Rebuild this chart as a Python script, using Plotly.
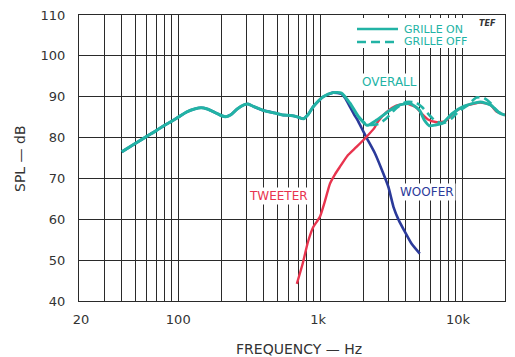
import plotly.graph_objects as go

# ---------------- data ----------------
on_freq = [40, 50, 60, 70, 80, 90, 100, 115, 130, 145, 160, 180, 200, 215, 235, 260, 290, 310,
           340, 400, 480, 550, 620, 700, 760, 820, 890, 1050, 1230, 1410, 1620, 1860, 2130,
           2500, 3100, 3640, 4300, 5000, 5400, 5870, 6500, 7260, 8520, 10300, 13400, 15800,
           18300, 20000]
on_db = [76.5, 78.6, 80.3, 81.7, 83.0, 84.0, 85.0, 86.3, 87.0, 87.3, 87.0, 86.2, 85.4, 85.1, 85.6,
         87.0, 88.0, 88.2, 87.6, 86.6, 86.0, 85.5, 85.4, 85.0, 84.6, 85.6, 87.5, 90.0, 91.0, 90.9,
         88.4, 85.1, 83.0, 84.3, 86.7, 88.0, 88.3, 86.7, 84.3, 82.9, 83.1, 83.5, 85.9, 87.7,
         88.7, 88.0, 86.0, 85.5]

off_freq = [1860, 2130, 2560, 2940, 3430, 4020, 4700, 5200, 5900, 6500, 7000, 7600, 8500, 9500,
            10700, 12600, 14000, 15800, 17500, 20000]
off_db = [85.1, 83.2, 83.3, 84.8, 87.2, 88.7, 88.6, 87.5, 85.4, 84.0, 83.6, 83.7, 84.8, 86.5,
          87.7, 89.8, 89.8, 88.5, 86.5, 85.5]

tw_freq = [684, 750, 820, 893, 950, 1000, 1080, 1170, 1270, 1373, 1550, 1800, 2120, 2400, 2560,
           2940, 3430, 4020, 4700, 5200, 5700, 6500, 7600, 8900, 10700, 13400, 15800, 17500, 20000]
tw_db = [44.2, 49.0, 54.5, 58.1, 59.5, 60.8, 64.5, 68.7, 71.0, 72.8, 75.5, 77.7, 80.2, 82.3, 84.0,
         86.3, 87.8, 88.3, 87.5, 85.8, 84.5, 83.8, 84.0, 86.4, 87.8, 88.6, 88.0, 86.3, 85.5]

wf_freq = [40, 50, 60, 70, 80, 90, 100, 115, 130, 145, 160, 180, 200, 215, 235, 260, 290, 310,
           340, 400, 480, 550, 620, 700, 760, 820, 890, 1050, 1230, 1410, 1500, 1620, 1740,
           1830, 1950, 2130, 2430, 2780, 3020, 3280, 3570, 3950, 4400, 5020]
wf_db = [76.5, 78.6, 80.3, 81.7, 83.0, 84.0, 85.0, 86.3, 87.0, 87.3, 87.0, 86.2, 85.4, 85.1, 85.6,
         87.0, 88.0, 88.2, 87.6, 86.6, 86.0, 85.5, 85.4, 85.0, 84.6, 85.6, 87.5, 90.0, 91.0, 90.7,
         89.6, 87.5, 85.5, 84.3, 82.4, 79.8, 76.1, 71.2, 67.9, 63.0, 59.8, 56.9, 54.0, 51.6]

x_tick_vals = [20, 100, 1000, 10000, 20000]
x_tick_text = ["\u00a020", "100", "1k\u00a0", "10k\u00a0\u00a0", "20k\u00a0\u00a0\u00a0"]
x_minor_vals = [30, 40, 50, 60, 70, 80, 90, 200, 300, 400, 500, 600, 700, 800, 900,
                2000, 3000, 4000, 5000, 6000, 7000, 8000, 9000]
y_tick_vals = [40, 50, 60, 70, 80, 90, 100, 110]
legend_labels = ["GRILLE ON", "GRILLE OFF"]

# ---------------- styles ----------------
TEAL = "#22b3a5"
RED = "#e8344e"
BLUE = "#2b3a9a"
GRID = "#2a2a2a"
TEXT = "#333333"
FONT = "DejaVu Sans"

fig = go.Figure()
fig.add_trace(go.Scatter(x=wf_freq, y=wf_db, mode="lines",
                         line=dict(color=BLUE, width=2.6, shape="spline", smoothing=0.5),
                         showlegend=False, hoverinfo="skip"))
fig.add_trace(go.Scatter(x=tw_freq, y=tw_db, mode="lines",
                         line=dict(color=RED, width=2.4, shape="spline", smoothing=0.5),
                         showlegend=False, hoverinfo="skip"))
fig.add_trace(go.Scatter(x=on_freq, y=on_db, mode="lines", name=legend_labels[0],
                         showlegend=False,
                         line=dict(color=TEAL, width=3, shape="spline", smoothing=0.6)))
fig.add_trace(go.Scatter(x=off_freq, y=off_db, mode="lines", name=legend_labels[1],
                         showlegend=False,
                         line=dict(color=TEAL, width=2.6, dash="9px,5px", shape="spline",
                                   smoothing=0.6)))

fig.update_xaxes(type="log", range=[1.30103, 4.30103], tickmode="array",
                 tickvals=x_tick_vals, ticktext=x_tick_text, showgrid=True,
                 gridcolor=GRID, gridwidth=1, showline=True, mirror=True, linecolor=GRID,
                 linewidth=1.2, ticks="", ticklabelstandoff=6, zeroline=False,
                 tickfont=dict(family=FONT, size=13, color=TEXT), automargin=False,
                 minor=dict(tickmode="array", tickvals=x_minor_vals, showgrid=True,
                            gridcolor=GRID, gridwidth=1, ticks=""))
fig.update_yaxes(range=[40, 110], tickmode="array", tickvals=y_tick_vals, showgrid=True,
                 gridcolor=GRID, gridwidth=1, showline=True, mirror=True, linecolor=GRID,
                 linewidth=1.2, ticks="", ticklabelstandoff=10, zeroline=False,
                 tickfont=dict(family=FONT, size=13, color=TEXT), automargin=False)

ann = [
    dict(text="OVERALL", x=0.728, y=0.766, color=TEAL),
    dict(text="TWEETER", x=0.469, y=0.367, color=RED),
    dict(text="WOOFER", x=0.817, y=0.381, color=BLUE),
]
for a in ann:
    fig.add_annotation(text=a["text"], x=a["x"], y=a["y"], xref="paper", yref="paper",
                       xanchor="center", yanchor="middle", showarrow=False, bgcolor="white",
                       borderpad=1, font=dict(family=FONT, size=12, color=a["color"]))

# legend box (drawn manually to match the compact key)
fig.add_shape(type="rect", xref="paper", yref="paper", x0=0.636, x1=0.927, y0=0.8846,
              y1=0.9895, fillcolor="white", line=dict(width=0), layer="above")
fig.add_shape(type="line", xref="paper", yref="paper", x0=0.6526, x1=0.7488, y0=0.951,
              y1=0.951, line=dict(color=TEAL, width=2.6), layer="above")
fig.add_shape(type="line", xref="paper", yref="paper", x0=0.6526, x1=0.7488, y0=0.9056,
              y1=0.9056, line=dict(color=TEAL, width=2.6, dash="9px,5px"), layer="above")
for lbl, yy in zip(legend_labels, [0.951, 0.9056]):
    fig.add_annotation(text=lbl, x=0.7582, y=yy, xref="paper", yref="paper", xanchor="left",
                       yanchor="middle", showarrow=False,
                       font=dict(family=FONT, size=11, color=TEAL))

fig.add_annotation(text="<b><i>TEF</i></b>", xref="paper", yref="paper", x=0.958, y=0.972,
                   xanchor="center", yanchor="middle", showarrow=False,
                   font=dict(family=FONT, size=8, color=TEXT))
fig.add_annotation(text="SPL — dB", xref="paper", yref="paper", x=-0.1385, y=0.5,
                   xanchor="center", yanchor="middle",
                   textangle=-90, showarrow=False, font=dict(family=FONT, size=14, color=TEXT))
fig.add_annotation(text="FREQUENCY — Hz", xref="paper", yref="paper", x=0.516, y=-0.168,
                   xanchor="center", yanchor="middle",
                   showarrow=False, font=dict(family=FONT, size=14, color=TEXT))

fig.update_layout(
    width=515, height=357,
    margin=dict(l=79, r=10, t=15, b=56),
    paper_bgcolor="white", plot_bgcolor="white",
    showlegend=False,
)

fig.write_html("out.html", config={"displayModeBar": False},
               post_script="document.body.style.margin='0px';")
